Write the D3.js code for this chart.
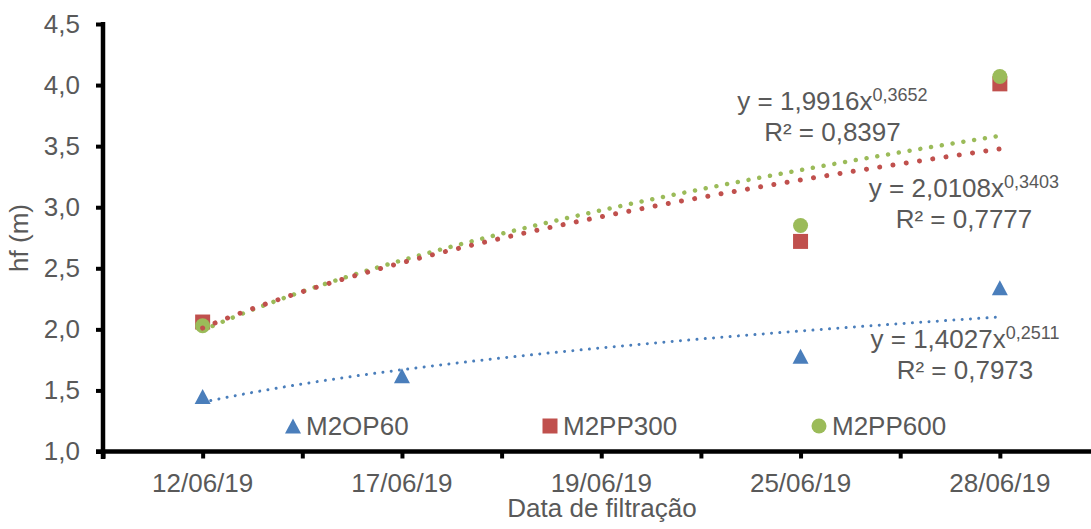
<!DOCTYPE html>
<html lang="pt">
<head>
  <meta charset="UTF-8">
  <title>hf (m) x Data de filtração</title>
  <script src="https://d3js.org/d3.v7.min.js"></script>
  <style>
    body { margin: 0; background: #fff; }
    text { font-family: "Liberation Sans", Arial, sans-serif; fill: #595959; }
  </style>
</head>
<body>
  <svg id="chart" width="1091" height="529"></svg>
  <script>
    // data
    let categories = ['12/06/19', '17/06/19', '19/06/19', '25/06/19', '28/06/19'];
    let seriesNames = ['M2OP60', 'M2PP300', 'M2PP600'];
    let valuesM2OP60 = [1.45, 1.62, null, 1.78, 2.34];
    let valuesM2PP300 = [2.06, null, null, 2.72, 4.01];
    let valuesM2PP600 = [2.03, null, null, 2.85, 4.07];
    // power trendlines y = a * x^b shown on the chart
    let trendA = [1.4027, 2.0108, 1.9916];
    let trendB = [0.2511, 0.3403, 0.3652];
    let trendR2 = [0.7973, 0.7777, 0.8397];
    let yTicks = [1.0, 1.5, 2.0, 2.5, 3.0, 3.5, 4.0, 4.5];

    let colors = ['#4A7EBB', '#C0504D', '#9BBB59'];
    let allValues = [valuesM2OP60, valuesM2PP300, valuesM2PP600];
    let fmt = function (v, n) { return v.toFixed(n).replace('.', ','); };

    let svg = d3.select('#chart');

    // index scale for categories (1..5), band edges at 0.5 .. 5.5
    let xIdx = d3.scaleLinear().domain([0.5, 5.5]).range([103, 1099.5]);
    let y = d3.scaleLinear().domain([1, 4.5]).range([451.5, 24]);

    // y axis
    let yAxis = d3.axisLeft(y)
      .tickValues(yTicks)
      .tickSize(7)
      .tickSizeOuter(0)
      .tickPadding(16)
      .tickFormat(function (d) { return fmt(d, 1); });
    let gy = svg.append('g').attr('transform', 'translate(103,0)').call(yAxis);
    gy.select('.domain').remove();
    gy.selectAll('line').attr('stroke', '#000').attr('stroke-width', 4);
    gy.selectAll('text').style('font-size', '26px').attr('fill', '#595959');
    gy.append('line')
      .attr('x1', 0).attr('x2', 0)
      .attr('y1', 22).attr('y2', 459)
      .attr('stroke', '#000').attr('stroke-width', 4.5);

    // x axis: tick marks at category centres and band edges
    let tickIdx = [];
    for (let i = 0; i <= 10; i++) tickIdx.push(0.5 + i * 0.5);
    let xTicks = d3.axisBottom(xIdx)
      .tickValues(tickIdx)
      .tickSize(7)
      .tickSizeOuter(0)
      .tickFormat('');
    let gx = svg.append('g').attr('transform', 'translate(0,451.5)').call(xTicks);
    gx.select('.domain').remove();
    gx.selectAll('line').attr('stroke', '#000').attr('stroke-width', 4);
    gx.append('line')
      .attr('x1', 96).attr('x2', 1100)
      .attr('y1', 0).attr('y2', 0)
      .attr('stroke', '#000').attr('stroke-width', 4.5);

    // x category labels
    let xBand = d3.scaleBand().domain(categories).range([103, 1099.5]);
    let xLabels = d3.axisBottom(xBand).tickSize(0).tickPadding(22);
    let gxl = svg.append('g').attr('transform', 'translate(0,451.5)').call(xLabels);
    gxl.select('.domain').remove();
    gxl.selectAll('text').style('font-size', '26px').attr('fill', '#595959');

    // axis titles
    svg.append('text')
      .attr('x', 602).attr('y', 517)
      .attr('text-anchor', 'middle')
      .style('font-size', '26px')
      .text('Data de filtração');
    svg.append('text')
      .attr('transform', 'translate(28,238) rotate(-90)')
      .attr('text-anchor', 'middle')
      .style('font-size', '26px')
      .text('hf (m)');

    // markers
    let triangle = 'M0,-7.5L8,7.5L-8,7.5Z';
    function drawMarker(g, k, cx, cy) {
      if (k === 0) {
        g.append('path').attr('d', triangle)
          .attr('transform', 'translate(' + cx + ',' + cy + ')')
          .attr('fill', colors[0]);
      } else if (k === 1) {
        g.append('rect')
          .attr('x', cx - 7.5).attr('y', cy - 7.5)
          .attr('width', 15).attr('height', 15)
          .attr('fill', colors[1]);
      } else {
        g.append('circle')
          .attr('cx', cx).attr('cy', cy).attr('r', 7.5)
          .attr('fill', colors[2]);
      }
    }

    let gm = svg.append('g');
    allValues.forEach(function (vals, k) {
      vals.forEach(function (v, i) {
        if (v === null) return;
        drawMarker(gm, k, xIdx(i + 1), y(v));
      });
    });

    // trendlines (dotted)
    let line = d3.line()
      .x(function (d) { return xIdx(d[0]); })
      .y(function (d) { return y(d[1]); });
    let dotStyle = [
      { w: 3, gap: 8.3 },
      { w: 5, gap: 13.4 },
      { w: 4.5, gap: 10.9 }
    ];
    [0, 2, 1].forEach(function (k) {
      let pts = [];
      for (let x = 1; x <= 5.0001; x += 0.05) pts.push([x, trendA[k] * Math.pow(x, trendB[k])]);
      svg.append('path')
        .attr('d', line(pts))
        .attr('fill', 'none')
        .attr('stroke', colors[k])
        .attr('stroke-width', dotStyle[k].w)
        .attr('stroke-linecap', 'round')
        .attr('stroke-dasharray', '0.01 ' + dotStyle[k].gap);
    });

    // trendline equations (anchor in data units: category index, value)
    let eqPos = [[4.825, 1.85], [4.82, 3.085], [4.16, 3.80]];
    [2, 1, 0].forEach(function (k) {
      let px = xIdx(eqPos[k][0]), py = y(eqPos[k][1]);
      let t = svg.append('text')
        .attr('x', px).attr('y', py)
        .attr('text-anchor', 'middle')
        .style('font-size', '26px');
      t.append('tspan').text('y = ' + fmt(trendA[k], 4) + 'x');
      t.append('tspan').attr('dy', -9).style('font-size', '18px').text(fmt(trendB[k], 4));
      svg.append('text')
        .attr('x', px).attr('y', py + 31)
        .attr('text-anchor', 'middle')
        .style('font-size', '26px')
        .text('R² = ' + fmt(trendR2[k], 4));
    });

    // legend inside the plot
    let legendX = [293, 550, 819];
    let gl = svg.append('g');
    seriesNames.forEach(function (name, k) {
      drawMarker(gl, k, legendX[k], 426);
      gl.append('text')
        .attr('x', legendX[k] + 13).attr('y', 435)
        .style('font-size', '26px')
        .text(name);
    });
  </script>
</body>
</html>
